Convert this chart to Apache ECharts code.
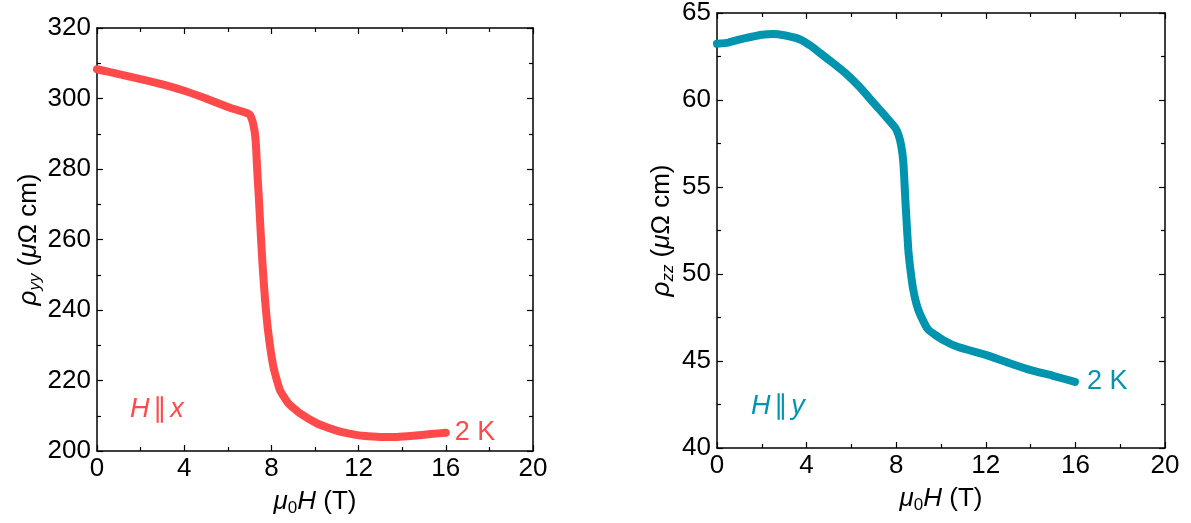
<!DOCTYPE html>
<html>
<head>
<meta charset="utf-8">
<script src="https://cdn.jsdelivr.net/npm/echarts@6/dist/echarts.min.js"></script>
<style>
  html, body { margin: 0; padding: 0; background: #fff; }
  #chart { width: 1191px; height: 523px; }
</style>
</head>
<body>
<div id="chart"></div>
<script>
// Magnetic field (T) and resistivity rho_yy (μΩ cm), H || x, 2 K
const fieldYY = [0, 0.5, 1, 2, 3, 4, 5, 6, 6.5, 6.9, 7.02, 7.12, 7.18, 7.25, 7.3, 7.34, 7.43, 7.51, 7.6, 7.71, 7.86, 8.09, 8.39, 8.78, 9.31, 10.07, 10.6, 11.15, 11.7, 12.2, 13.0, 13.75, 14.5, 15.3, 16.0];
const rhoYY   = [308.3, 307.6, 306.9, 305.5, 304.0, 302.2, 300.0, 297.6, 296.6, 295.8, 295.3, 293.8, 292.3, 289.8, 285.8, 280.7, 271.2, 261.8, 252.3, 242.8, 233.4, 223.9, 217.3, 213.5, 210.7, 207.9, 206.6, 205.5, 204.8, 204.3, 204.0, 204.0, 204.3, 204.8, 205.2];

// Magnetic field (T) and resistivity rho_zz (μΩ cm), H || y, 2 K
const fieldZZ = [0, 0.5, 1.03, 1.5, 2, 2.5, 3, 3.71, 4.2, 4.6, 5.2, 5.79, 6.4, 6.98, 7.5, 7.95, 8.1, 8.22, 8.32, 8.42, 8.54, 8.65, 8.76, 8.9, 9.06, 9.43, 10.1, 10.77, 12.03, 13.0, 13.97, 15.0, 15.98];
const rhoZZ   = [63.23, 63.3, 63.48, 63.62, 63.75, 63.8, 63.72, 63.48, 63.1, 62.7, 62.1, 61.48, 60.7, 59.85, 59.1, 58.42, 58.0, 57.4, 56.4, 54.0, 51.4, 50.1, 49.1, 48.3, 47.7, 46.8, 46.2, 45.8, 45.34, 44.9, 44.49, 44.15, 43.8];

const fieldTicks = { min: 0, max: 20, interval: 4 };
const yyTicks = { min: 200, max: 320, interval: 20 };
const zzTicks = { min: 40, max: 65, interval: 5 };

const RED = '#ff4a4b';
const TEAL = '#0094ae';
const FONT = '"Liberation Sans", Arial, Helvetica, sans-serif';
const FS = 26;

const pairs = (xs, ys) => xs.map((x, i) => [x, ys[i]]);

const axisLine = { show: true, onZero: false, lineStyle: { color: '#000', width: 1.5 } };
const axisTick = { show: true, inside: true, length: 6, lineStyle: { color: '#000', width: 1.2 } };
const minorTick = { show: true, splitNumber: 2, length: 4, lineStyle: { color: '#000', width: 1.2 } };
const labelStyle = { color: '#000', fontSize: FS, fontFamily: FONT };

function valueAxis(kind, grid, position, ticks, withLabels, extra) {
  return Object.assign({
    type: 'value', gridIndex: grid, position: position,
    min: ticks.min, max: ticks.max, interval: ticks.interval,
    axisLine: axisLine, axisTick: axisTick, minorTick: minorTick,
    splitLine: { show: false },
    axisLabel: Object.assign({ show: withLabels, margin: kind === 'x' ? 5 : 6 }, labelStyle)
  }, extra || {});
}

const nameRich = {
  it: { fontStyle: 'italic', fontSize: FS, fontFamily: FONT, color: '#000' },
  n: { fontSize: FS, fontFamily: FONT, color: '#000' },
  sub: { fontSize: 17, fontFamily: FONT, color: '#000', verticalAlign: 'bottom', lineHeight: 18 },
  subit: { fontSize: 17, fontStyle: 'italic', fontFamily: FONT, color: '#000', verticalAlign: 'bottom', lineHeight: 18 }
};

const xName = '{it|μ}{sub|0}{it|H}{n| (T)}';

function xNameOpts() {
  return { name: xName, nameLocation: 'middle', nameGap: 35, nameTextStyle: { rich: nameRich, lineHeight: 30 } };
}

function yNameOpts(sub, gap) {
  return { name: '{it|ρ}{subit|' + sub + '}{n| (}{it|μ}{n|Ω cm)}', nameLocation: 'middle', nameGap: gap,
           nameTextStyle: { rich: nameRich, lineHeight: 30 } };
}

const labelRich = (color) => ({
  it: { fontStyle: 'italic', fontSize: 27, fontFamily: FONT, fill: color },
  n: { fontSize: 27, fontFamily: FONT, fill: color }
});

const option = {
  backgroundColor: '#fff',
  animation: false,
  grid: [
    { left: 97, top: 28, width: 436, height: 423 },
    { left: 717, top: 12, width: 448, height: 436 }
  ],
  xAxis: [
    valueAxis('x', 0, 'bottom', fieldTicks, true, xNameOpts()),
    valueAxis('x', 0, 'top', fieldTicks, false),
    valueAxis('x', 1, 'bottom', fieldTicks, true, xNameOpts()),
    valueAxis('x', 1, 'top', fieldTicks, false)
  ],
  yAxis: [
    valueAxis('y', 0, 'left', yyTicks, true, yNameOpts('yy', 46)),
    valueAxis('y', 0, 'right', yyTicks, false),
    valueAxis('y', 1, 'left', zzTicks, true, yNameOpts('zz', 40)),
    valueAxis('y', 1, 'right', zzTicks, false)
  ],
  series: [
    {
      type: 'line', xAxisIndex: 0, yAxisIndex: 0,
      data: pairs(fieldYY, rhoYY),
      showSymbol: false, smooth: 0.15,
      lineStyle: { color: RED, width: 8, cap: 'round', join: 'round' },
      endLabel: { show: true, formatter: '2 K', color: RED, fontSize: 27, fontFamily: FONT, distance: 9 }
    },
    {
      type: 'line', xAxisIndex: 2, yAxisIndex: 2,
      data: pairs(fieldZZ, rhoZZ),
      showSymbol: false, smooth: 0.15,
      lineStyle: { color: TEAL, width: 8, cap: 'round', join: 'round' },
      endLabel: { show: true, formatter: '2 K', color: TEAL, fontSize: 27, fontFamily: FONT, distance: 12 }
    }
  ],
  graphic: [
    {
      type: 'text', left: 130, top: 396,
      style: { text: '{it|H} {n|∥} {it|x}', rich: labelRich(RED), fill: RED }
    },
    {
      type: 'text', left: 751, top: 393,
      style: { text: '{it|H} {n|∥} {it|y}', rich: labelRich(TEAL), fill: TEAL }
    }
  ]
};

const chart = echarts.init(document.getElementById('chart'), null, { renderer: 'canvas' });
chart.setOption(option);
</script>
</body>
</html>
